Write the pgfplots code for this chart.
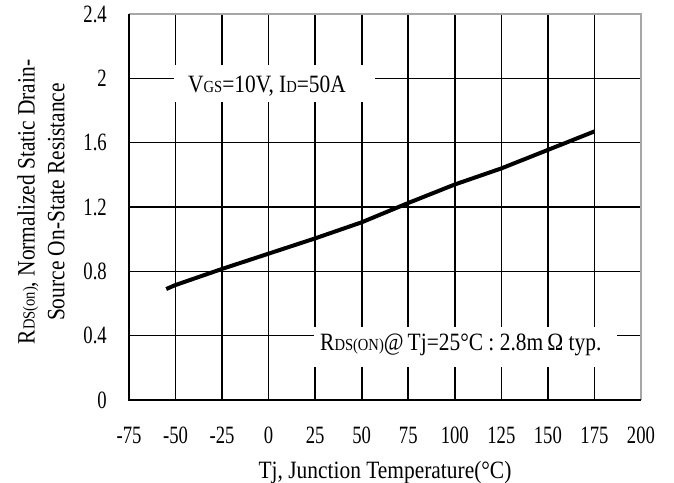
\documentclass[border=0pt]{standalone}
\usepackage{fontspec}
\setmainfont{Liberation Serif}[FakeStretch=0.86]
\newfontfamily\tickfont{Liberation Serif}[FakeStretch=0.75]
\usepackage{pgfplots}
\pgfplotsset{compat=1.18}
\newcommand{\sm}[1]{{\fontsize{17}{20}\selectfont #1}}
\begin{document}
\fontsize{25}{30}\selectfont
\begin{tikzpicture}
\begin{axis}[
 scale only axis, width=512bp, height=386bp,
 xmin=-75, xmax=200, ymin=0, ymax=2.4,
 xtick={-75,-50,...,200}, ytick={0,0.4,0.8,1.2,1.6,2,2.4},
 grid=major, major grid style={black, line width=1.6bp},
 major tick length=0pt,
 axis line style={draw=none},
 /pgf/number format/assume math mode=true,
 tick label style={font=\tickfont\fontsize{25}{30}\selectfont},
 xticklabel style={inner sep=0pt, yshift=-27bp},
 yticklabel style={inner sep=0pt, xshift=-22bp},
 xlabel={Tj, Junction Temperature(°C)},
 xlabel style={at={(axis description cs:0.5,0)}, anchor=base, inner sep=0pt, yshift=-78bp},
 ylabel={R\sm{DS(on)}, Normalized Static Drain-\\Source On-State Resistance},
 ylabel style={at={([xshift=-88bp,yshift=5bp]axis description cs:0,0.5)}, anchor=center, align=center, inner sep=0pt},
 clip=false,
]
\addplot[black, line width=4bp, line join=round, line cap=butt] coordinates {
(-55,0.69) (-50,0.715) (-25,0.815) (0,0.91) (25,1.005) (50,1.105)
(75,1.225) (100,1.34) (125,1.44) (150,1.555) (175,1.67)};
\fill[white] (axis cs:-50.8,1.853) rectangle (axis cs:57.1,2.083);
\node[anchor=base west, inner sep=0pt] at (axis cs:-43.3,1.915) {V\sm{GS}=10V, I\sm{D}=50A};
\fill[white] (axis cs:24.4,0.205) rectangle (axis cs:187.1,0.454);
\node[anchor=base west, inner sep=0pt] at (axis cs:27.6,0.305) {R\sm{DS(ON)}@\,Tj=25°C : 2.8m\,Ω\ typ.};
\draw[gray!70, line width=2.5bp] (rel axis cs:0,1) -- (rel axis cs:1,1) -- (rel axis cs:1,0);
\draw[black, line width=2bp] (rel axis cs:0,1) -- (rel axis cs:0,0) -- (rel axis cs:1,0);
\coordinate (O) at (rel axis cs:0,0);
\end{axis}
\pgfresetboundingbox
\path ([shift={(-129bp,-83bp)}]O) rectangle ++(674bp,483bp);
\end{tikzpicture}
\end{document}
